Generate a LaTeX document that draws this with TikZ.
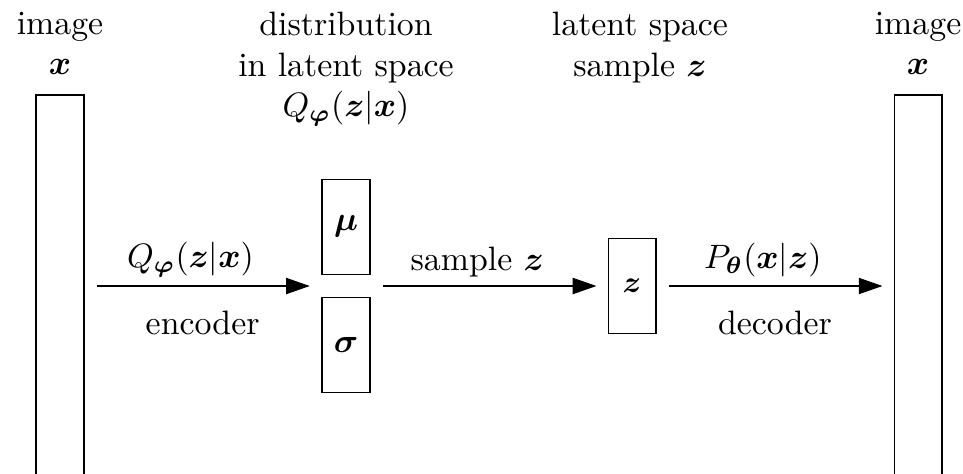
\documentclass[tikz,border=0pt]{standalone}
\usepackage{amsmath}
\usepackage{tikz}
\usetikzlibrary{
    arrows.meta,
    fit,
    positioning
}
\definecolor{ink}{RGB}{0,0,0}
\tikzset{
    layer/.style={
        rectangle,
        draw=ink,
        line width=0.32pt,
        minimum width=0.498cm,
        inner sep=0pt,
        text=ink
    },
    imagelayer/.style={layer, minimum height=3.967cm},
    latentlayer/.style={layer, minimum height=0.986cm},
    flow/.style={
        -{Triangle[length=7pt, width=4.8pt]},
        draw=ink,
        line width=0.32pt,
        shorten >=0.115cm,
        shorten <=0.125cm
    },
    caption/.style={
        align=center,
        anchor=north,
        text=ink
    },
    toplabel/.style={above=-0.8pt, xshift=-3.6pt},
    bottomlabel/.style={below=4pt}
}

\begin{document}
\begin{tikzpicture}

\useasboundingbox (0,0) rectangle (10,4.922);
\clip (0,0) rectangle (10,4.922);

% Input and output images
\node[imagelayer] (xin) at (0.623, 1.952) {};
\node[imagelayer] (xout) at (9.533, 1.952) {};

% Latent distribution and sample
\node[latentlayer] (mu) at (3.593, 2.568) {$\boldsymbol{\mu}$};
\node[latentlayer] (sigma) at (3.593, 1.336) {$\boldsymbol{\sigma}$};
\node[fit=(mu)(sigma), inner sep=0pt] (dist) {};
\node[latentlayer, font=\small] (z) at (6.563, 1.952) {$\boldsymbol{z}$};

% Captions
\node[caption] (capin) at (0.623, 4.922) {image\\$\boldsymbol{x}$};
\node[caption] (capdist) at (3.593, 4.922) {distribution\\in latent space\\$Q_{\boldsymbol{\varphi}}(\boldsymbol{z}|\boldsymbol{x})$};
\node[caption] (capz) at (6.645, 4.922) {latent space\\sample $\boldsymbol{z}$};
\node[caption] (capout) at (9.533, 4.922) {image\\$\boldsymbol{x}$};

% Connections
\draw[flow] (xin) -- node[toplabel] {$Q_{\boldsymbol{\varphi}}(\boldsymbol{z}|\boldsymbol{x})$}
    node[bottomlabel] {encoder} (dist);
\draw[flow] (dist) -- node[toplabel] {sample $\boldsymbol{z}$} (z);
\draw[flow] (z) -- node[toplabel] {$P_{\boldsymbol{\theta}}(\boldsymbol{x}|\boldsymbol{z})$}
    node[bottomlabel] {decoder} (xout);

\end{tikzpicture}
\end{document}
